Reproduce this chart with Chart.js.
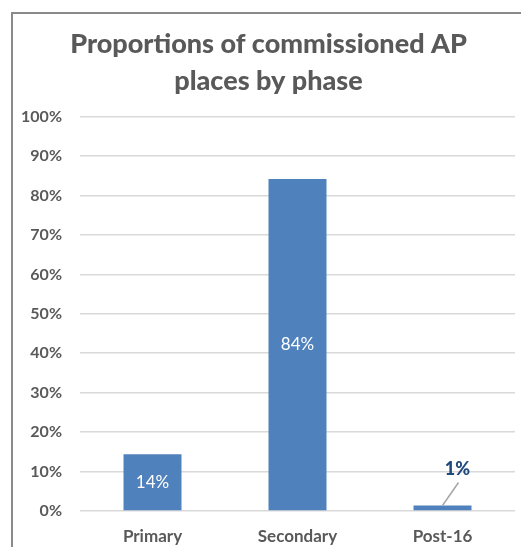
<!DOCTYPE html>
<html>
<head>
<meta charset="utf-8">
<script src="https://cdn.jsdelivr.net/npm/chart.js@4"></script>
<style>
  html, body { margin: 0; padding: 0; background: #fff; }
  #wrap { position: relative; width: 521px; height: 547px; overflow: hidden; }
  #frame { position: absolute; left: 11px; top: 12px; width: 600px; height: 600px;
           border-left: 2px solid #8a8a8a; border-top: 2px solid #8a8a8a; pointer-events: none; }
  canvas { position: absolute; left: 0; top: 0; }
</style>
</head>
<body>
<div id="wrap">
  <canvas id="c" width="521" height="547"></canvas>
  <div id="frame"></div>
</div>
<script>
const titleLines = ["Proportions of commissioned AP", "places by phase"];
const categories = ["Primary", "Secondary", "Post-16"];
const values = [14.4, 84.2, 1.4];
const valueLabels = ["14%", "84%", "1%"];
const yTicks = [0, 10, 20, 30, 40, 50, 60, 70, 80, 90, 100];

const labelPlugin = {
  id: 'barLabels',
  afterDatasetsDraw(chart) {
    const ctx = chart.ctx;
    const meta = chart.getDatasetMeta(0);
    meta.data.forEach((bar, i) => {
      const p = bar.getProps(['x', 'y', 'base'], true);
      ctx.save();
      ctx.textAlign = 'center';
      ctx.textBaseline = 'middle';
      if (values[i] >= 5) {
        ctx.fillStyle = '#ffffff';
        ctx.font = '17px Lato';
        ctx.fillText(valueLabels[i], p.x, (p.y + p.base) / 2);
      } else {
        ctx.strokeStyle = '#a6a6a6';
        ctx.lineWidth = 1.5;
        ctx.beginPath();
        ctx.moveTo(p.x, p.y);
        ctx.lineTo(p.x + 16, p.y - 23);
        ctx.stroke();
        ctx.fillStyle = '#1f497d';
        ctx.font = '900 18px Lato';
        ctx.fillText(valueLabels[i], p.x + 15, p.y - 36);
      }
      ctx.restore();
    });
  }
};

new Chart(document.getElementById('c'), {
  type: 'bar',
  data: {
    labels: categories,
    datasets: [{
      data: values,
      backgroundColor: '#4f81bd',
      borderWidth: 0,
      barPercentage: 0.4,
      categoryPercentage: 1.0
    }]
  },
  options: {
    responsive: false,
    animation: false,
    devicePixelRatio: 1,
    layout: { padding: { left: 22, right: 6, top: 25, bottom: 0 } },
    plugins: {
      legend: { display: false },
      tooltip: { enabled: false },
      title: {
        display: true,
        text: titleLines,
        color: '#595959',
        font: { family: 'Lato', size: 27, weight: '900', lineHeight: 1.4 },
        padding: { top: 0, bottom: 16 }
      }
    },
    scales: {
      x: {
        grid: { display: false, drawTicks: false },
        border: { display: false },
        ticks: { color: '#595959', font: { family: 'Lato', size: 17, weight: 'bold' }, padding: 15 },
        afterFit(s) { s.height = 36; }
      },
      y: {
        min: 0, max: 100,
        afterBuildTicks(s) { s.ticks = yTicks.map(v => ({ value: v })); },
        grid: { color: '#d9d9d9', lineWidth: 1.5, drawTicks: false },
        border: { display: false },
        ticks: {
          color: '#595959',
          font: { family: 'Lato', size: 16, weight: 'bold' },
          padding: 18,
          callback: v => v + '%'
        },
        afterFit(s) { s.width = 58; }
      }
    }
  },
  plugins: [labelPlugin]
});
</script>
</body>
</html>
